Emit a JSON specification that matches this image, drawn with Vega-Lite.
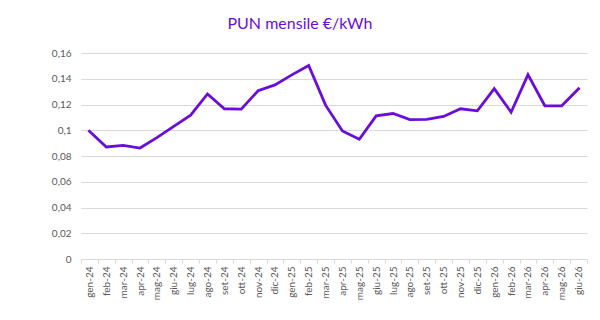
{
  "$schema": "https://vega.github.io/schema/vega-lite/v6.json",
  "autosize": {"type": "none"},
  "width": 506,
  "height": 206,
  "padding": {"left": 81, "top": 53, "right": 13, "bottom": 61},
  "background": "white",
  "title": {
    "text": "PUN mensile €/kWh",
    "color": "#6A0DDA",
    "font": "Lato",
    "fontSize": 16,
    "fontWeight": "normal",
    "anchor": "middle",
    "dx": -34,
    "offset": 16
  },
  "data": {
    "values": [
      {"mese": "gen-24", "pun": 0.0992},
      {"mese": "feb-24", "pun": 0.0870},
      {"mese": "mar-24", "pun": 0.0883},
      {"mese": "apr-24", "pun": 0.0862},
      {"mese": "mag-24", "pun": 0.0943},
      {"mese": "giu-24", "pun": 0.1030},
      {"mese": "lug-24", "pun": 0.1117},
      {"mese": "ago-24", "pun": 0.1282},
      {"mese": "set-24", "pun": 0.1167},
      {"mese": "ott-24", "pun": 0.1164},
      {"mese": "nov-24", "pun": 0.1307},
      {"mese": "dic-24", "pun": 0.1352},
      {"mese": "gen-25", "pun": 0.1430},
      {"mese": "feb-25", "pun": 0.1503},
      {"mese": "mar-25", "pun": 0.1195},
      {"mese": "apr-25", "pun": 0.0995},
      {"mese": "mag-25", "pun": 0.0930},
      {"mese": "giu-25", "pun": 0.1112},
      {"mese": "lug-25", "pun": 0.1130},
      {"mese": "ago-25", "pun": 0.1083},
      {"mese": "set-25", "pun": 0.1085},
      {"mese": "ott-25", "pun": 0.1107},
      {"mese": "nov-25", "pun": 0.1167},
      {"mese": "dic-25", "pun": 0.1151},
      {"mese": "gen-26", "pun": 0.1323},
      {"mese": "feb-26", "pun": 0.1140},
      {"mese": "mar-26", "pun": 0.1432},
      {"mese": "apr-26", "pun": 0.1190},
      {"mese": "mag-26", "pun": 0.1190},
      {"mese": "giu-26", "pun": 0.1323}
    ]
  },
  "mark": {"type": "line", "color": "#6A0DDA", "strokeWidth": 2.8, "strokeJoin": "miter", "strokeCap": "square"},
  "encoding": {
    "x": {
      "field": "mese",
      "type": "ordinal",
      "sort": null,
      "scale": {"type": "band", "paddingInner": 0, "paddingOuter": 0},
      "axis": {
        "title": null,
        "labelAngle": -90,
        "labelFont": "Lato",
        "labelFontSize": 10,
        "labelColor": "#595959",
        "labelPadding": 3,
        "domainColor": "#d9d9d9",
        "tickColor": "#d9d9d9",
        "tickSize": 4,
        "tickBand": "extent",
        "grid": false
      }
    },
    "y": {
      "field": "pun",
      "type": "quantitative",
      "scale": {"domain": [0, 0.16], "nice": false},
      "axis": {
        "title": null,
        "values": [0, 0.02, 0.04, 0.06, 0.08, 0.1, 0.12, 0.14, 0.16],
        "labelExpr": "replace(format(datum.value, '~g'), '.', ',')",
        "labelFont": "Lato",
        "labelFontSize": 10,
        "labelColor": "#595959",
        "labelPadding": 10,
        "ticks": false,
        "domain": false,
        "gridColor": "#d9d9d9",
        "gridWidth": 1
      }
    }
  },
  "config": {"view": {"stroke": null}}
}
